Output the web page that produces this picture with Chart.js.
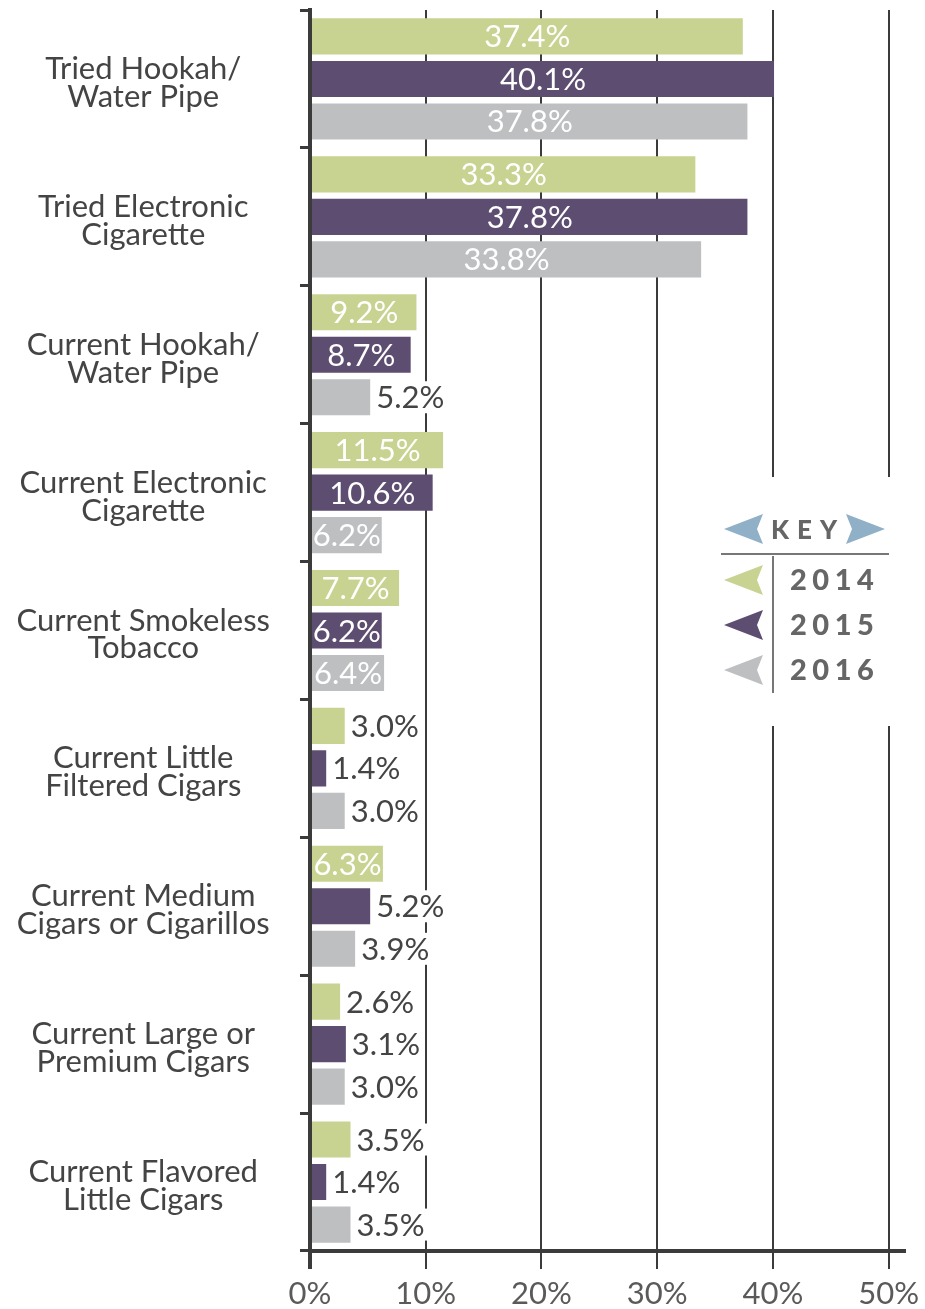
<!DOCTYPE html>
<html>
<head>
<meta charset="utf-8">
<script src="https://cdn.jsdelivr.net/npm/chart.js@4.4.0/dist/chart.umd.min.js"></script>
<style>
    html, body { margin: 0; padding: 0; background: #fff; }
    #wrap { width: 925px; height: 1309px; }
</style>
</head>
<body>
<div id="wrap"><canvas id="barChart" width="925" height="1309"></canvas></div>
<script>
// Categories (two lines each)
const categories = [
    ["Tried Hookah/", "Water Pipe"],
    ["Tried Electronic", "Cigarette"],
    ["Current Hookah/", "Water Pipe"],
    ["Current Electronic", "Cigarette"],
    ["Current Smokeless", "Tobacco"],
    ["Current Little", "Filtered Cigars"],
    ["Current Medium", "Cigars or Cigarillos"],
    ["Current Large or", "Premium Cigars"],
    ["Current Flavored", "Little Cigars"]
];
const years = ["2014", "2015", "2016"];
const values2014 = [37.4, 33.3, 9.2, 11.5, 7.7, 3.0, 6.3, 2.6, 3.5];
const values2015 = [40.1, 37.8, 8.7, 10.6, 6.2, 1.4, 5.2, 3.1, 1.4];
const values2016 = [37.8, 33.8, 5.2, 6.2, 6.4, 3.0, 3.9, 3.0, 3.5];
const tickValues = [0, 10, 20, 30, 40, 50];

const colors = ["#c8d391", "#5d4d71", "#bebfc1"];
const axisColor = "#3b3b3b";
const fontName = "Lato";

// value labels: white inside long bars, dark outside short ones
const valueLabels = {
    id: "valueLabels",
    afterDatasetsDraw(chart) {
        const ctx = chart.ctx;
        ctx.save();
        ctx.font = "31px " + fontName;
        ctx.textBaseline = "middle";
        chart.data.datasets.forEach((ds, i) => {
            chart.getDatasetMeta(i).data.forEach((bar, j) => {
                const v = ds.data[j];
                const text = v.toFixed(1) + "%";
                if (v > 6) {
                    ctx.fillStyle = "#fff";
                    ctx.textAlign = "center";
                    ctx.fillText(text, (bar.x + bar.base) / 2, bar.y + 1);
                } else {
                    const w = ctx.measureText(text).width;
                    ctx.fillStyle = "#fff";
                    ctx.fillRect(bar.x + 3, bar.y - 16, w + 6, 32);
                    ctx.fillStyle = "#444";
                    ctx.textAlign = "left";
                    ctx.fillText(text, bar.x + 6, bar.y + 1);
                }
            });
        });
        ctx.restore();
    }
};

// draw text letter by letter (spaced)
const spacedText = (ctx, text, x, y, gap) => {
    for (const ch of text) {
        ctx.fillText(ch, x, y);
        x += ctx.measureText(ch).width + gap;
    }
};

// flag arrow, dir = -1 points left, 1 points right
const flag = (ctx, tipX, cy, dir, color) => {
    ctx.fillStyle = color;
    ctx.beginPath();
    ctx.moveTo(tipX, cy);
    ctx.lineTo(tipX - dir * 39, cy - 15);
    ctx.lineTo(tipX - dir * 33, cy);
    ctx.lineTo(tipX - dir * 39, cy + 15);
    ctx.closePath();
    ctx.fill();
};

// the KEY box on the right
const keyBox = {
    id: "keyBox",
    afterDraw(chart) {
        const ctx = chart.ctx;
        ctx.save();
        ctx.fillStyle = "#fff";
        ctx.fillRect(705, 477, 195, 249);

        flag(ctx, 724, 529, -1, "#8fb0c6");
        flag(ctx, 885, 529, 1, "#8fb0c6");
        ctx.fillStyle = "#666";
        ctx.font = "900 26px " + fontName;
        ctx.textBaseline = "middle";
        ctx.textAlign = "left";
        spacedText(ctx, "KEY", 771, 531, 8);

        ctx.strokeStyle = "#777";
        ctx.lineWidth = 2;
        ctx.beginPath();
        ctx.moveTo(721, 554);
        ctx.lineTo(889, 554);
        ctx.moveTo(773, 556);
        ctx.lineTo(773, 693);
        ctx.stroke();

        ctx.font = "900 29px " + fontName;
        years.forEach((y, i) => {
            const cy = 580 + i * 45;
            flag(ctx, 724, cy, -1, chart.data.datasets[i].backgroundColor);
            ctx.fillStyle = "#666";
            spacedText(ctx, y, 790, cy + 1, 5.5);
        });
        ctx.restore();
    }
};

const ctx1 = document.getElementById("barChart").getContext("2d");
const chart1 = new Chart(ctx1, {
    type: "bar",
    data: {
        labels: categories,
        datasets: [
            { label: years[0], data: values2014, backgroundColor: colors[0] },
            { label: years[1], data: values2015, backgroundColor: colors[1] },
            { label: years[2], data: values2016, backgroundColor: colors[2] }
        ]
    },
    options: {
        indexAxis: "y",
        responsive: false,
        animation: false,
        devicePixelRatio: 1,
        barPercentage: 0.85,
        categoryPercentage: 0.925,
        layout: { padding: { top: 10, left: 0, right: 0, bottom: 0 } },
        plugins: {
            legend: { display: false },
            tooltip: { enabled: false }
        },
        scales: {
            x: {
                min: 0,
                max: 51.3,
                afterBuildTicks: (scale) => {
                    scale.ticks = tickValues.map(v => ({ value: v }));
                },
                afterFit: (scale) => { scale.height = 58; },
                grid: {
                    color: axisColor,
                    lineWidth: (c) => (c.index === 0 ? 4 : 2),
                    tickLength: 18
                },
                border: { display: true, color: axisColor, width: 4 },
                ticks: {
                    callback: (v) => v + "%",
                    color: "#5a5a5a",
                    padding: 6,
                    font: { family: fontName, size: 31 }
                }
            },
            y: {
                afterFit: (scale) => {
                    scale.width = 310;
                    scale.paddingTop = 0;
                    scale.paddingBottom = 0;
                },
                grid: {
                    offset: true,
                    drawOnChartArea: false,
                    color: axisColor,
                    lineWidth: 3,
                    tickLength: 10
                },
                border: { display: true, color: axisColor, width: 4 },
                ticks: {
                    color: "#444",
                    crossAlign: "center",
                    padding: 30,
                    labelOffset: 4,
                    font: { family: fontName, size: 31, lineHeight: 0.9 }
                }
            }
        }
    },
    plugins: [valueLabels, keyBox]
});
</script>
</body>
</html>
